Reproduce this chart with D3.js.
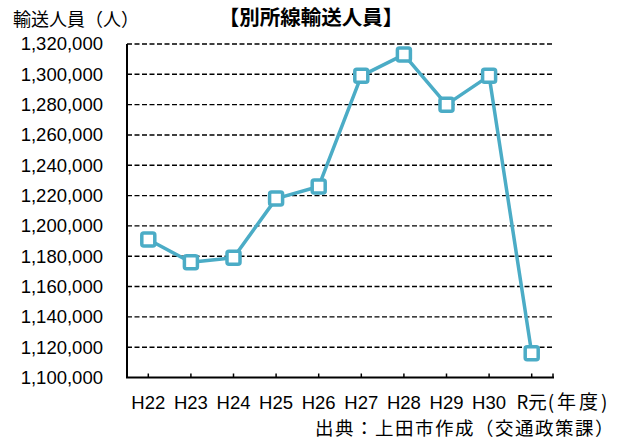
<!DOCTYPE html>
<html>
<head>
<meta charset="utf-8">
<script src="https://cdn.jsdelivr.net/npm/d3@7"></script>
<style>
    body { margin: 0; background: #fff; }
    text { fill: #000; }
    .num { font-family: "Liberation Sans", Arial, sans-serif; }
    .jp { font-family: "Noto Sans CJK JP", sans-serif; }
</style>
</head>
<body>
<div id="chart"></div>
<script>
const years = ["H22", "H23", "H24", "H25", "H26", "H27", "H28", "H29", "H30", "R元"]
const riders = [1191000, 1176000, 1179000, 1218000, 1226000, 1299000, 1313000, 1280000, 1299000, 1116000]
const yTicks = [1100000, 1120000, 1140000, 1160000, 1180000, 1200000, 1220000, 1240000, 1260000, 1280000, 1300000, 1320000]

const width = 619
const height = 441
const plot = { left: 127, right: 553, top: 44, bottom: 377.5 }
const lineColor = "#4bacc6"

const svg = d3.select("div#chart").append("svg").attr("width", width).attr("height", height)

const x = d3.scalePoint().domain(years).range([plot.left, plot.right]).padding(0.5)
const y = d3.scaleLinear().domain([1100000, 1320000]).range([plot.bottom, plot.top])

// grid lines (dashed)
svg.append("g").selectAll("line").data(yTicks.slice(1)).enter()
    .append("line")
    .attr("x1", plot.left).attr("x2", plot.right)
    .attr("y1", d => y(d)).attr("y2", d => y(d))
    .attr("stroke", "#000").attr("stroke-width", 1.4)
    .attr("stroke-dasharray", "5,2.5")

// y labels
const fmt = d3.format(",")
svg.append("g").selectAll("text").data(yTicks).enter()
    .append("text")
    .attr("class", "num")
    .attr("x", 103).attr("y", d => y(d))
    .attr("dy", "0.35em")
    .attr("text-anchor", "end")
    .attr("font-size", 18.5)
    .text(d => fmt(d))

// axes
svg.append("line")
    .attr("x1", plot.left).attr("x2", plot.left)
    .attr("y1", plot.top).attr("y2", plot.bottom)
    .attr("stroke", "#000").attr("stroke-width", 2)
svg.append("line")
    .attr("x1", plot.left - 1).attr("x2", plot.right + 1)
    .attr("y1", plot.bottom).attr("y2", plot.bottom)
    .attr("stroke", "#000").attr("stroke-width", 2)

const tickPos = years.map(d => x(d)).concat([plot.right])
svg.append("g").selectAll("line").data(tickPos).enter()
    .append("line")
    .attr("x1", d => d).attr("x2", d => d)
    .attr("y1", plot.bottom).attr("y2", plot.bottom - 4)
    .attr("stroke", "#000").attr("stroke-width", 1.5)

// x labels
svg.append("g").selectAll("text").data(years).enter()
    .append("text")
    .attr("class", d => d === "R元" ? "jp" : "num")
    .attr("x", d => x(d)).attr("y", 409)
    .attr("text-anchor", "middle")
    .attr("font-size", 18.5)
    .text(d => d)

svg.append("text").attr("class", "jp")
    .attr("x", x("R元") + 16).attr("y", 409)
    .attr("font-size", 19)
    .attr("letter-spacing", 3)
    .text("(年度)")

// line + markers
const line = d3.line().x((d, i) => x(years[i])).y(d => y(d))
svg.append("path")
    .datum(riders)
    .attr("d", line)
    .attr("fill", "none")
    .attr("stroke", lineColor)
    .attr("stroke-width", 3.5)
    .attr("stroke-linejoin", "round")

svg.append("g").selectAll("rect").data(riders).enter()
    .append("rect")
    .attr("x", (d, i) => x(years[i]) - 6.5)
    .attr("y", d => y(d) - 6.5)
    .attr("width", 13).attr("height", 13)
    .attr("rx", 2)
    .attr("fill", "#fff")
    .attr("stroke", lineColor)
    .attr("stroke-width", 3.5)

// titles
svg.append("text").attr("class", "jp")
    .attr("x", 13).attr("y", 26)
    .attr("font-size", 18)
    .text("輸送人員（人）")

svg.append("text").attr("class", "jp")
    .attr("x", 311).attr("y", 25)
    .attr("text-anchor", "middle")
    .attr("font-size", 20.5)
    .attr("font-weight", "bold")
    .text("【別所線輸送人員】")

svg.append("text").attr("class", "jp")
    .attr("x", 615).attr("y", 435)
    .attr("text-anchor", "end")
    .attr("font-size", 18.5)
    .attr("letter-spacing", 1.5)
    .text("出典：上田市作成（交通政策課）")
</script>
</body>
</html>
